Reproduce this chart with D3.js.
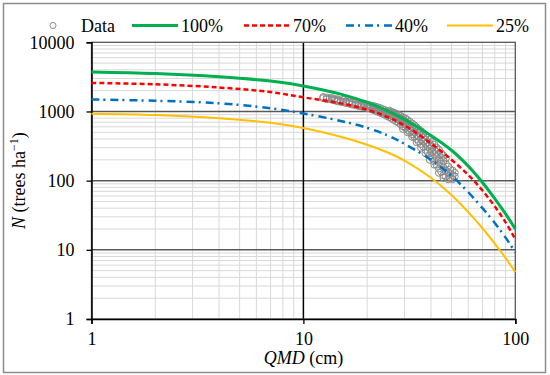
<!DOCTYPE html>
<html>
<head>
<meta charset="utf-8">
<script src="https://cdn.jsdelivr.net/npm/d3@7"></script>
<style>
  body { margin: 0; background: #fff; }
  svg text { font-family: "Liberation Serif", "Times New Roman", serif; fill: #000; }
</style>
</head>
<body>
<div id="chart"></div>
<script>
const W = 550, H = 375;

// curve values, at these QMD values
const qmdGrid = [1, 2, 4, 7, 10, 15, 20, 25, 30, 40, 50, 60, 70, 80, 90, 100];
const n100 = [3720, 3530, 3170, 2750, 2340, 1780, 1350, 1020, 770, 450, 275, 162, 94, 55, 33, 20];
const n70  = [2590, 2470, 2220, 1910, 1600, 1310, 1060, 830, 630, 345, 200, 121, 72, 42.5, 25, 14.2];
const n40  = [1490, 1430, 1310, 1115, 935, 730, 580, 450, 340, 200, 118, 68, 40, 24.5, 15, 9.2];
const n25  = [930, 890, 800, 685, 575, 430, 330, 255, 195, 110, 62, 35, 20.5, 12.3, 7.6, 4.8];

// observed stands: [QMD, N]
const obs = [
  [12.4,1560],[12.4,1620],[12.9,1500],[12.9,1590],[13.3,1540],[13.6,1480],[13.6,1570],
  [14.0,1450],[14.0,1520],[14.5,1400],[14.5,1500],[14.5,1460],[15.0,1430],[15.0,1380],
  [15.4,1360],[15.4,1470],[15.9,1320],[15.9,1410],[15.9,1380],[16.5,1290],[16.5,1400],
  [16.5,1350],[17.0,1330],[17.0,1260],[17.6,1280],[17.6,1360],[17.6,1230],[18.2,1200],
  [18.2,1300],[18.2,1260],[18.8,1180],[18.8,1270],[18.8,1220],[19.3,1150],[19.3,1240],
  [19.3,1300],[20.0,1120],[20.0,1200],[20.0,1260],[20.6,1100],[20.6,1170],[20.6,1230],
  [21.2,1060],[21.2,1140],[21.2,1210],[21.2,1090],[21.8,1030],[21.8,1110],[21.8,1180],
  [22.4,990],[22.4,1080],[22.4,1150],[22.4,1040],[23.0,960],[23.0,1040],[23.0,1120],
  [23.6,930],[23.6,1010],[23.6,1080],[23.6,970],[24.2,900],[24.2,980],[24.2,1050],
  [24.8,860],[24.8,940],[24.8,1010],[24.8,900],[25.4,830],[25.4,900],[25.4,970],[25.4,1030],
  [26.0,800],[26.0,870],[26.0,940],[26.0,990],[26.7,760],[26.7,840],[26.7,900],[26.7,960],
  [27.4,720],[27.4,800],[27.4,870],[27.4,930],[28.1,690],[28.1,760],[28.1,830],[28.1,890],
  [28.8,650],[28.8,720],[28.8,790],[28.8,860],[29.5,610],[29.5,690],[29.5,760],[29.5,820],
  [29.5,560],[30.3,580],[30.3,650],[30.3,720],[30.3,790],[31.0,540],[31.0,610],[31.0,680],
  [31.0,750],[31.0,500],[31.8,500],[31.8,570],[31.8,640],[31.8,710],[32.6,470],[32.6,530],
  [32.6,600],[32.6,670],[32.6,430],[33.4,430],[33.4,500],[33.4,560],[33.4,630],[34.2,400],
  [34.2,460],[34.2,520],[34.2,590],[34.2,360],[35.0,370],[35.0,430],[35.0,490],[35.0,550],
  [35.9,340],[35.9,400],[35.9,450],[35.9,520],[35.9,300],[36.8,310],[36.8,370],[36.8,420],
  [36.8,480],[37.7,280],[37.7,340],[37.7,390],[37.7,450],[37.7,250],[38.6,260],[38.6,310],
  [38.6,360],[38.6,420],[39.5,230],[39.5,290],[39.5,340],[39.5,390],[39.5,200],[40.5,210],
  [40.5,260],[40.5,310],[40.5,360],[41.5,190],[41.5,240],[41.5,280],[41.5,330],[41.5,170],
  [42.5,170],[42.5,220],[42.5,260],[42.5,300],[43.6,150],[43.6,195],[43.6,240],[43.6,280],
  [43.6,130],[44.7,135],[44.7,175],[44.7,215],[44.7,250],[45.8,120],[45.8,155],[45.8,195],
  [45.8,230],[45.8,110],[47.0,115],[47.0,140],[47.0,175],[47.0,210],[48.2,105],[48.2,130],
  [48.2,160],[49.4,110],[49.4,125],[49.4,145],[50.6,105],[50.6,120],[50.6,140],[51.8,115],
  [51.8,130]
];

const xTicks = [1, 10, 100];
const yTicks = [1, 10, 100, 1000, 10000];

const series = [
  { name: "100%", values: n100, color: "#00b050", width: 3, dash: null },
  { name: "70%",  values: n70,  color: "#ff0000", width: 2.5, dash: "5,3" },
  { name: "40%",  values: n40,  color: "#0070c0", width: 2.5, dash: "8,4,2,5" },
  { name: "25%",  values: n25,  color: "#ffc000", width: 2, dash: null }
];

const pL = 91.5, pR = 515.3, pT = 42.3, pB = 319;

const svg = d3.select("#chart").append("svg")
  .attr("width", W)
  .attr("height", H);

// outer frame
svg.append("rect")
  .attr("x", 3.5).attr("y", 3.5)
  .attr("width", 542).attr("height", 369)
  .attr("fill", "#fff")
  .attr("stroke", "#8c8c8c")
  .attr("stroke-width", 1.5);

const x = d3.scaleLog().domain([1, 100]).range([pL, pR]);
const y = d3.scaleLog().domain([1, 10000]).range([pB, pT]);

// minor grid values 2..9 in each decade
const minorX = [], minorY = [];
for (let p = 0; p < 2; p++) for (let k = 2; k < 10; k++) minorX.push(k * Math.pow(10, p));
for (let p = 0; p < 4; p++) for (let k = 2; k < 10; k++) minorY.push(k * Math.pow(10, p));

const grid = svg.append("g");
grid.selectAll(".mx").data(minorX).enter().append("line")
  .attr("x1", d => x(d)).attr("x2", d => x(d))
  .attr("y1", pT).attr("y2", pB)
  .attr("stroke", "#d9d9d9").attr("stroke-width", 1);
grid.selectAll(".my").data(minorY).enter().append("line")
  .attr("x1", pL).attr("x2", pR)
  .attr("y1", d => y(d)).attr("y2", d => y(d))
  .attr("stroke", "#d9d9d9").attr("stroke-width", 1);
grid.selectAll(".My").data([10, 100, 1000]).enter().append("line")
  .attr("x1", pL).attr("x2", pR)
  .attr("y1", d => y(d)).attr("y2", d => y(d))
  .attr("stroke", "#595959").attr("stroke-width", 1.5);
grid.append("line")
  .attr("x1", x(10)).attr("x2", x(10))
  .attr("y1", pT).attr("y2", pB)
  .attr("stroke", "#000").attr("stroke-width", 1.5);

// plot frame
svg.append("rect")
  .attr("x", pL).attr("y", pT)
  .attr("width", pR - pL).attr("height", pB - pT)
  .attr("fill", "none")
  .attr("stroke", "#595959").attr("stroke-width", 1.3);

// axes
const yAxis = svg.append("g")
  .attr("transform", `translate(${pL},0)`)
  .call(d3.axisLeft(y).tickValues(yTicks).tickFormat(d3.format("d")).tickSize(5).tickPadding(12));
const xAxis = svg.append("g")
  .attr("transform", `translate(0,${pB})`)
  .call(d3.axisBottom(x).tickValues(xTicks).tickFormat(d3.format("d")).tickSize(5).tickPadding(8));
[yAxis, xAxis].forEach(a => {
  a.attr("font-family", null);
  a.select(".domain").attr("stroke", "#000").attr("stroke-width", 1.5);
  a.selectAll(".tick line").attr("stroke", "#000").attr("stroke-width", 1.3);
  a.selectAll("text").attr("font-size", 18).attr("fill", "#000");
});

// observed data
svg.append("g")
  .selectAll("circle")
  .data(obs)
  .enter().append("circle")
  .attr("cx", d => x(d[0]))
  .attr("cy", d => y(d[1]))
  .attr("r", 3.5)
  .attr("fill", "none")
  .attr("stroke", "#8a8a8a")
  .attr("stroke-width", 1);

// model curves
const line = d3.line()
  .x(d => x(d[0]))
  .y(d => y(d[1]))
  .curve(d3.curveCatmullRom);

svg.append("g")
  .selectAll("path")
  .data(series)
  .enter().append("path")
  .attr("d", s => line(qmdGrid.map((q, i) => [q, s.values[i]])))
  .attr("fill", "none")
  .attr("stroke", s => s.color)
  .attr("stroke-width", s => s.width)
  .attr("stroke-dasharray", s => s.dash);

// legend
const legY = 25.5;
const leg = svg.append("g");
leg.append("circle")
  .attr("cx", 53).attr("cy", legY).attr("r", 3)
  .attr("fill", "none").attr("stroke", "#8a8a8a").attr("stroke-width", 1);
leg.append("text")
  .attr("x", 81).attr("y", legY + 6)
  .attr("font-size", 18).text("Data");

const legX = [132, 244, 346, 447];
series.forEach((s, i) => {
  leg.append("line")
    .attr("x1", legX[i]).attr("x2", legX[i] + 46)
    .attr("y1", legY).attr("y2", legY)
    .attr("stroke", s.color)
    .attr("stroke-width", s.width)
    .attr("stroke-dasharray", s.dash);
  leg.append("text")
    .attr("x", legX[i] + 49).attr("y", legY + 6)
    .attr("font-size", 18).text(s.name);
});

// axis titles
const xt = svg.append("text")
  .attr("x", (pL + pR) / 2).attr("y", 364)
  .attr("text-anchor", "middle")
  .attr("font-size", 18);
xt.append("tspan").attr("font-style", "italic").text("QMD");
xt.append("tspan").text(" (cm)");

const yt = svg.append("text")
  .attr("transform", `translate(25,${(pT + pB) / 2}) rotate(-90)`)
  .attr("text-anchor", "middle")
  .attr("font-size", 18);
yt.append("tspan").attr("font-style", "italic").text("N");
yt.append("tspan").text(" (trees ha");
yt.append("tspan").attr("font-size", 12).attr("dy", -7).text("\u22121");
yt.append("tspan").attr("dy", 7).text(")");
</script>
</body>
</html>
